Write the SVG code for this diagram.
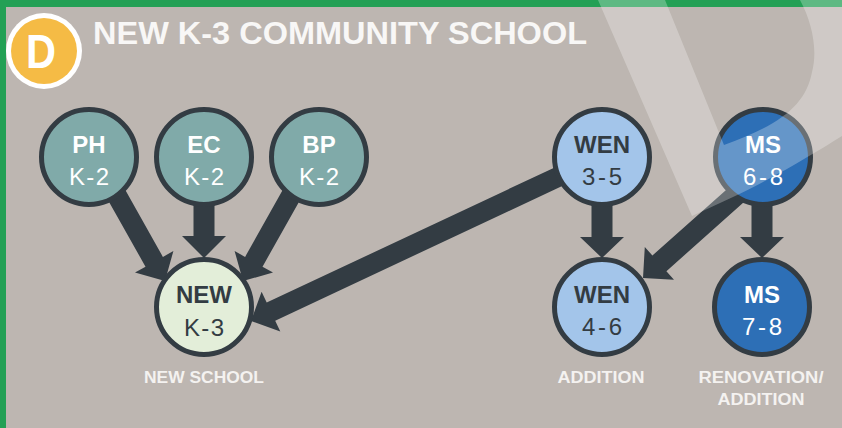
<svg xmlns="http://www.w3.org/2000/svg" width="842" height="428" viewBox="0 0 842 428">
  <style>
    .node { stroke: #333c43; stroke-width: 5; }
    .teal { fill: #80aaa9; }
    .new { fill: #e3eed9; }
    .wen { fill: #a3c5ea; }
    .ms { fill: #2d6fb6; }
    .lb { font-family: "Liberation Sans", Arial, sans-serif; font-weight: bold; font-size: 24px; text-anchor: middle; }
    .lr { font-family: "Liberation Sans", Arial, sans-serif; font-size: 24px; text-anchor: middle; }
    .light { fill: #ffffff; }
    .dark { fill: #333c43; }
    .cap { font-family: "Liberation Sans", Arial, sans-serif; font-weight: bold; font-size: 16px; fill: #f4f2f0; text-anchor: middle; }
    .arrow { fill: #333c43; }
  </style>
  <rect x="0" y="0" width="842" height="428" fill="#bdb6b1"/>
  <rect x="0" y="0" width="842" height="7" fill="#23a055"/>
  <rect x="0" y="0" width="6" height="428" fill="#23a055"/>

  <g id="badge">
    <circle cx="44" cy="51" r="38" fill="#ffffff"/>
    <circle cx="44" cy="51" r="33" fill="#f5bb45"/>
    <text x="41" y="68" font-family="Liberation Sans, Arial, sans-serif" font-weight="bold" font-size="49" fill="#ffffff" text-anchor="middle" textLength="30" lengthAdjust="spacingAndGlyphs">D</text>
  </g>
  <text id="title" x="93" y="44" font-family="Liberation Sans, Arial, sans-serif" font-weight="bold" font-size="31" fill="#f8f7f6" textLength="494" lengthAdjust="spacingAndGlyphs">NEW K-3 COMMUNITY SCHOOL</text>

  <g id="connectors">
    <polygon class="arrow" points="119.7,180.1 162.9,256.9 173.4,251 165,281 135,272.6 145.5,266.7 102.3,189.9"/>
    <polygon class="arrow" points="193.5,195 214.5,195 214.5,236 226,236 204,258 182,236 193.5,236"/>
    <polygon class="arrow" points="288.3,180.1 245.1,256.9 234.6,251 243,281 273,272.6 262.5,266.7 305.7,189.9"/>
    <polygon class="arrow" points="567.5,183.5 275.2,320.7 280.3,331.6 251,321 261.6,291.7 266.7,302.6 559,165.4"/>
    <polygon class="arrow" points="591.5,195 612.5,195 612.5,237 624,237 602,258 580,237 591.5,237"/>
    <polygon class="arrow" points="751.5,195 772.5,195 772.5,237 784,237 762,258 740,237 751.5,237"/>
    <polygon class="arrow" points="747.1,199.3 666.4,271.2 674,279.8 643,278 644.8,247 652.4,255.6 733.1,183.7"/>
  </g>

  <g id="node-ph">
    <circle class="node teal" cx="89" cy="157" r="47.5"/>
    <text class="lb light" x="89" y="153">PH</text>
    <text class="lr light" x="89" y="185" textLength="40" lengthAdjust="spacing">K-2</text>
  </g>
  <g id="node-ec">
    <circle class="node teal" cx="204" cy="157" r="47.5"/>
    <text class="lb light" x="204" y="153">EC</text>
    <text class="lr light" x="204" y="185" textLength="40" lengthAdjust="spacing">K-2</text>
  </g>
  <g id="node-bp">
    <circle class="node teal" cx="319" cy="157" r="47.5"/>
    <text class="lb light" x="319" y="153">BP</text>
    <text class="lr light" x="319" y="185" textLength="40" lengthAdjust="spacing">K-2</text>
  </g>
  <g id="node-new">
    <circle class="node new" cx="204" cy="307" r="47.5"/>
    <text class="lb dark" x="204" y="303">NEW</text>
    <text class="lr dark" x="204" y="336" textLength="40" lengthAdjust="spacing">K-3</text>
    <text class="cap" x="204" y="383" textLength="120" lengthAdjust="spacingAndGlyphs">NEW SCHOOL</text>
  </g>
  <g id="node-wen35">
    <circle class="node wen" cx="602" cy="157" r="47.5"/>
    <text class="lb dark" x="602" y="153">WEN</text>
    <text class="lr dark" x="602" y="185" textLength="40" lengthAdjust="spacing">3-5</text>
  </g>
  <g id="node-ms68">
    <circle class="node ms" cx="763" cy="157" r="47.5"/>
    <text class="lb light" x="763" y="153">MS</text>
    <text class="lr light" x="763" y="185" textLength="40" lengthAdjust="spacing">6-8</text>
  </g>
  <g id="node-wen46">
    <circle class="node wen" cx="602" cy="307" r="47.5"/>
    <text class="lb dark" x="602" y="303">WEN</text>
    <text class="lr dark" x="602" y="335" textLength="40" lengthAdjust="spacing">4-6</text>
    <text class="cap" x="601" y="383" textLength="87" lengthAdjust="spacingAndGlyphs">ADDITION</text>
  </g>
  <g id="node-ms78">
    <circle class="node ms" cx="762" cy="307" r="47.5"/>
    <text class="lb light" x="762" y="303">MS</text>
    <text class="lr light" x="762" y="335" textLength="40" lengthAdjust="spacing">7-8</text>
    <text class="cap" x="761" y="383" textLength="125" lengthAdjust="spacingAndGlyphs">RENOVATION/</text>
    <text class="cap" x="761" y="405" textLength="87" lengthAdjust="spacingAndGlyphs">ADDITION</text>
  </g>

  <path id="watermark" fill="#ffffff" fill-opacity="0.27" fill-rule="evenodd" d="M598,0 L850,0 L850,130 L842,136 C820,150 770,180 733,197 L692,216 Z M665,0 L800,0 C812,22 818,50 812,72 C806,105 780,125 724,145 Z"/>
</svg>
